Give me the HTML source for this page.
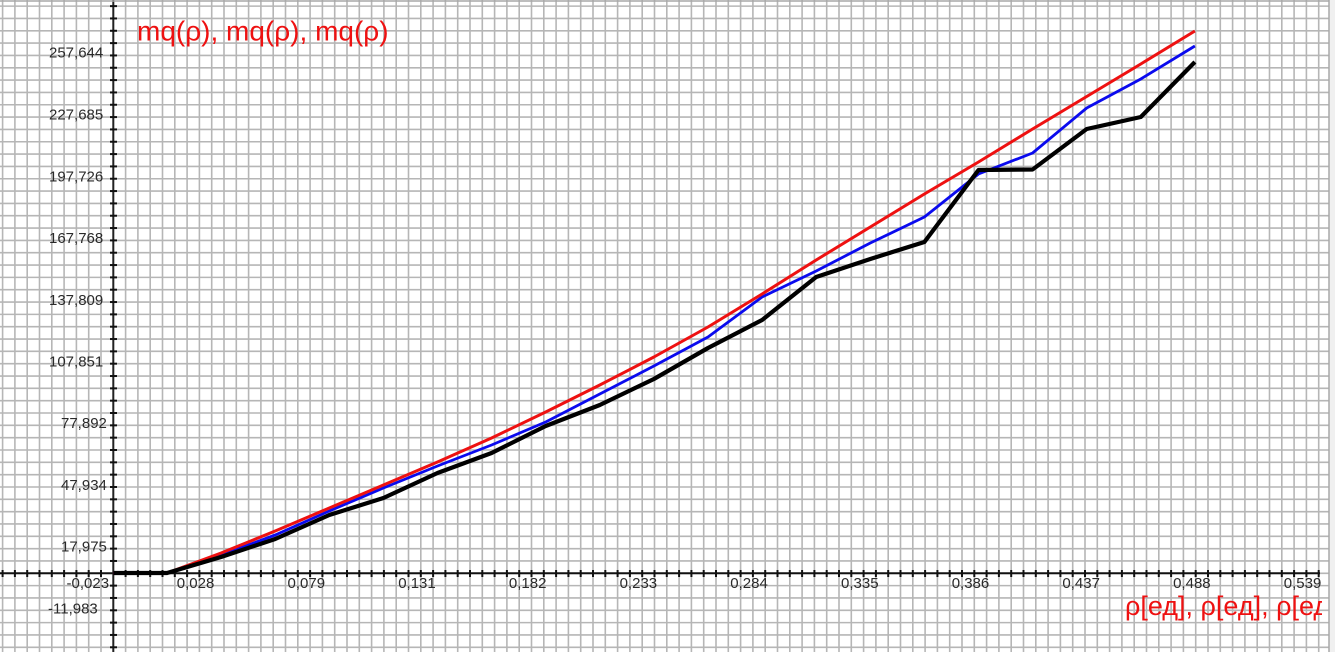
<!DOCTYPE html>
<html>
<head>
<meta charset="utf-8">
<style>
html,body{margin:0;padding:0;background:#f0f0f0;}
svg{display:block;}
text{font-family:"Liberation Sans",Arial,sans-serif;}
</style>
</head>
<body>
<svg width="1335" height="652" viewBox="0 0 1335 652" xmlns="http://www.w3.org/2000/svg">
<defs>
<clipPath id="plot"><rect x="0" y="0" width="1329" height="652"/></clipPath>
<clipPath id="xl"><rect x="0" y="0" width="1322" height="652"/></clipPath>
</defs>
<rect x="0" y="0" width="1335" height="652" fill="#f0f0f0"/>
<rect x="0" y="0" width="1329" height="652" fill="#ffffff"/>
<g clip-path="url(#plot)">
<g id="grid" stroke="#b6b6b6" stroke-width="1.6" fill="none"></g>
<!-- axes -->
<line x1="0" y1="573.3" x2="1320" y2="573.3" stroke="#111" stroke-width="2"/>
<line x1="113.3" y1="0" x2="113.3" y2="652" stroke="#222" stroke-width="2"/>
<g id="ticks" stroke="#111" stroke-width="2"></g>

<!-- series -->
<polyline fill="none" stroke="#0a0aee" stroke-width="2.8" stroke-linejoin="round"
 points="113.3,573 167,573 221.1,555 275.2,535 329.3,511 383.4,488 437.5,466 491.6,445 545.7,422 599.8,394 653.9,366 708,337 762.1,297 816.2,271 870.3,243 924.4,217 978.5,174 1032.6,153 1086.7,108 1140.8,79 1194.9,46"/>
<polyline fill="none" stroke="#ee1111" stroke-width="3" stroke-linejoin="round"
 points="113.3,573 167,573 221.1,553 275.2,531 329.3,508 383.4,485 437.5,462 491.6,438 545.7,412 599.8,385 653.9,357 708,327 762.1,294 816.2,260 870.3,227 924.4,194 978.5,162 1032.6,129 1086.7,96.5 1140.8,64 1194.9,31"/>
<polyline fill="none" stroke="#000000" stroke-width="4.2" stroke-linejoin="round"
 points="113.3,573 167,573 221.1,557 275.2,539 329.3,515 383.4,498 437.5,473 491.6,453 545.7,426 599.8,405 653.9,379 708,348 762.1,320 816.2,277 870.3,259 924.4,242 978.5,170 1032.6,169.5 1086.7,129 1140.8,117 1194.9,62"/>

<!-- y labels -->
<g font-size="15" fill="#2a2a2a">
<text x="49" y="57.7">257,644</text>
<text x="49" y="119.7">227,685</text>
<text x="49" y="181.4">197,726</text>
<text x="49" y="243.1">167,768</text>
<text x="49" y="304.8">137,809</text>
<text x="49" y="366.4">107,851</text>
<text x="61" y="428.2">77,892</text>
<text x="61" y="489.9">47,934</text>
<text x="61" y="551.6">17,975</text>
<text x="48" y="613.3">-11,983</text>
<text x="66.5" y="588">-0,023</text>
</g>
<!-- x labels -->
<g font-size="15" fill="#2a2a2a">
<text x="176.8" y="588">0,028</text>
<text x="287.5" y="588">0,079</text>
<text x="398.2" y="588">0,131</text>
<text x="508.9" y="588">0,182</text>
<text x="619.6" y="588">0,233</text>
<text x="730.3" y="588">0,284</text>
<text x="841" y="588">0,335</text>
<text x="951.7" y="588">0,386</text>
<text x="1062.4" y="588">0,437</text>
<text x="1173.1" y="588">0,488</text>
<text x="1283.8" y="588">0,539</text>
</g>
<text x="137" y="40.5" font-size="28" fill="#ee1111">mq(ρ), mq(ρ), mq(ρ)</text>
<g clip-path="url(#xl)">
<text x="1125" y="615" font-size="27" fill="#ee1111" font-family="'Liberation Sans','DejaVu Sans',sans-serif">ρ[ед], ρ[ед], ρ[ед]</text>
</g>
</g>
<line x1="1329" y1="0" x2="1329" y2="652" stroke="#a8a8a8" stroke-width="1.5"/>
<line x1="0" y1="1" x2="1329" y2="1" stroke="#a8a8a8" stroke-width="1.5"/>
<script>
(function(){
  var ns="http://www.w3.org/2000/svg";
  var g=document.getElementById("grid");
  var t=document.getElementById("ticks");
  for(var k=-9;k<=98;k++){
    var x=113.3+12.3*k;
    var l=document.createElementNS(ns,"line");
    l.setAttribute("x1",x);l.setAttribute("x2",x);
    l.setAttribute("y1",0);l.setAttribute("y2",652);
    g.appendChild(l);
    if(k!==0 && x<1321){
      var tk=document.createElementNS(ns,"line");
      tk.setAttribute("x1",x);tk.setAttribute("x2",x);
      tk.setAttribute("y1",570);tk.setAttribute("y2",577);
      t.appendChild(tk);
    }
  }
  for(var j=-6;j<=46;j++){
    var y=573.3-12.33*j;
    var l2=document.createElementNS(ns,"line");
    l2.setAttribute("x1",0);l2.setAttribute("x2",1329);
    l2.setAttribute("y1",y);l2.setAttribute("y2",y);
    g.appendChild(l2);
    if(j!==0){
      var tk2=document.createElementNS(ns,"line");
      tk2.setAttribute("x1",110);tk2.setAttribute("x2",117);
      tk2.setAttribute("y1",y);tk2.setAttribute("y2",y);
      t.appendChild(tk2);
    }
  }
})();
</script>
</svg>
</body>
</html>
